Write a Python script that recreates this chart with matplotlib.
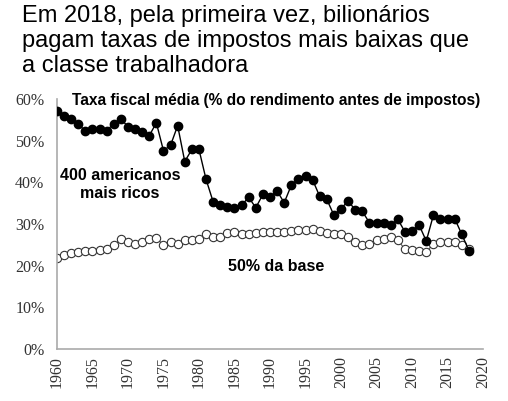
import matplotlib.pyplot as plt
import matplotlib.ticker as mtick

years = list(range(1960, 2019))

top400 = [57.1, 56.0, 55.3, 53.9, 52.4, 52.8, 52.9, 52.4, 54.1, 55.2,
          53.4, 52.7, 52.2, 51.2, 54.3, 47.6, 48.9, 53.6, 45.0, 47.9,
          47.9, 40.7, 35.3, 34.6, 34.1, 33.9, 34.5, 36.4, 33.9, 37.1,
          36.5, 37.9, 35.1, 39.3, 40.8, 41.6, 40.6, 36.6, 35.9, 32.1,
          33.7, 35.5, 33.4, 33.0, 30.3, 30.3, 30.2, 29.7, 31.1, 28.1,
          28.4, 29.7, 25.9, 32.1, 31.3, 31.3, 31.3, 27.5, 23.6]

bottom50 = [21.9, 22.5, 23.0, 23.3, 23.4, 23.6, 23.8, 23.9, 24.9, 26.3,
            25.7, 25.1, 25.7, 26.4, 26.7, 24.9, 25.7, 25.1, 26.1, 26.1,
            26.3, 27.5, 26.9, 26.9, 27.9, 28.1, 27.7, 27.7, 27.9, 28.0,
            28.1, 28.1, 28.0, 28.3, 28.6, 28.6, 28.7, 28.2, 27.9, 27.7,
            27.6, 26.9, 25.7, 25.0, 25.2, 26.1, 26.5, 26.9, 26.1, 23.9,
            23.7, 23.6, 23.3, 25.2, 25.6, 25.6, 25.6, 24.9, 24.1]

xticks = list(range(1960, 2021, 5))
yticks = [0, 10, 20, 30, 40, 50, 60]

fig = plt.figure(figsize=(5.08, 4.01), dpi=100)
ax = fig.add_axes([0.112, 0.13, 0.839, 0.623])

ax.plot(years, bottom50, color='#555555', lw=0.8, marker='o', ms=6,
        mfc='white', mec='#333333', mew=0.8, zorder=2)
ax.plot(years, top400, color='black', lw=1.0, marker='o', ms=6,
        mfc='black', mec='black', zorder=3)

ax.set_xlim(1960, 2020)
ax.set_ylim(0, 60)
ax.set_xticks(xticks)
ax.set_yticks(yticks)
ax.yaxis.set_major_formatter(mtick.FormatStrFormatter('%d%%'))
ax.tick_params(length=0, labelsize=11.5, pad=9)
ax.tick_params(axis='x', rotation=90, pad=5)
for lab in ax.get_xticklabels() + ax.get_yticklabels():
    lab.set_family('Liberation Serif')
    lab.set_color('#333333')

for s in ['top', 'right']:
    ax.spines[s].set_visible(False)
for s in ['left', 'bottom']:
    ax.spines[s].set_color('#aaaaaa')
    ax.spines[s].set_linewidth(1.2)

ax.text(1962.1, 59.6, 'Taxa fiscal média (% do rendimento antes de impostos)',
        fontsize=11.2, fontweight='bold', family='Liberation Sans', va='center')
ax.text(1968.9, 39.5, '400 americanos\nmais ricos', fontsize=11.5,
        fontweight='bold', family='Liberation Sans', ha='center', va='center',
        linespacing=1.2)
ax.text(1990.8, 19.7, '50% da base', fontsize=11.5, fontweight='bold',
        family='Liberation Sans', ha='center', va='center')

fig.text(0.043, 0.988, 'Em 2018, pela primeira vez, bilionários\n'
         'pagam taxas de impostos mais baixas que\na classe trabalhadora',
         fontsize=17, family='Liberation Sans', va='top', linespacing=1.18)

fig.savefig('out.png', dpi=100)
